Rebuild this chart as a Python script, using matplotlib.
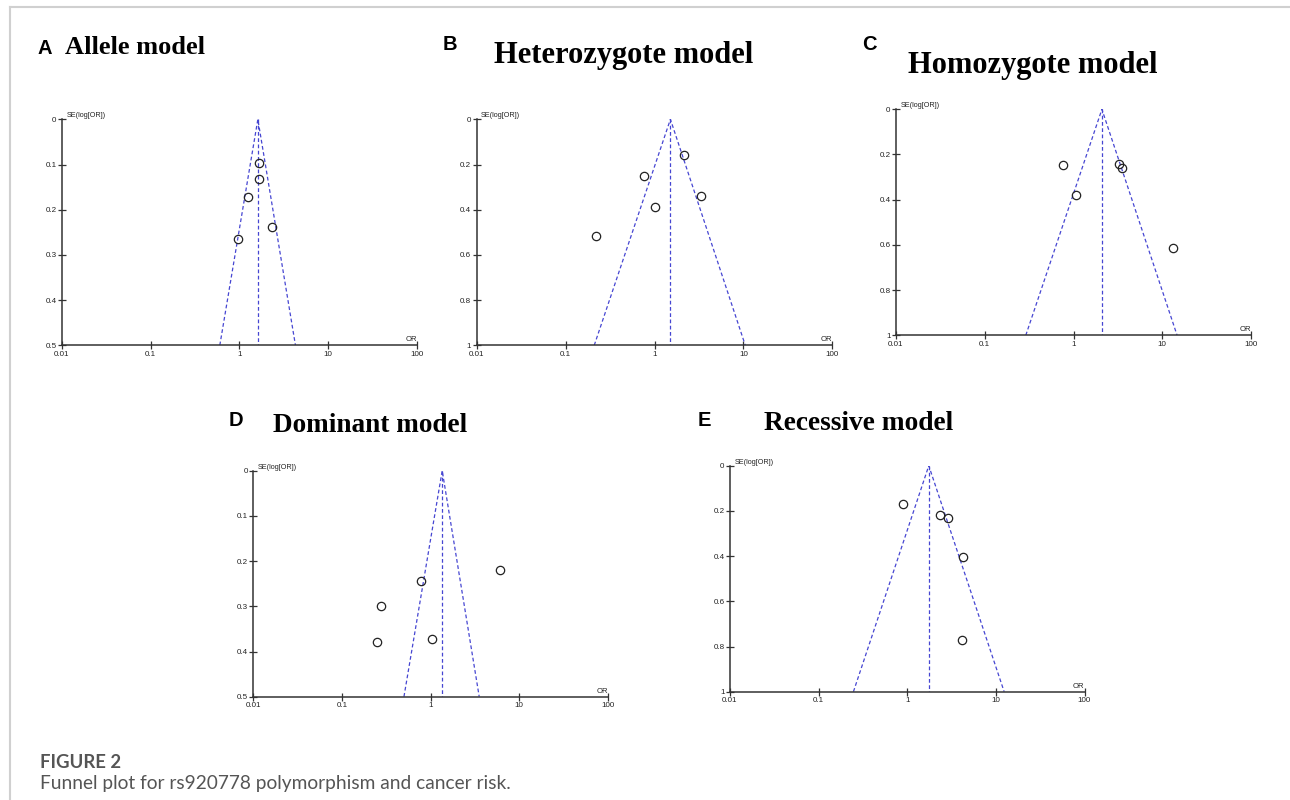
import matplotlib
matplotlib.use("Agg")
from matplotlib import pyplot as plt
from matplotlib.lines import Line2D

W, H = 1290, 800

# panel letters and titles
letters = ["A", "B", "C", "D", "E"]
titles = ["Allele model", "Heterozygote model", "Homozygote model",
          "Dominant model", "Recessive model"]

# pooled OR and funnel limits at the bottom of each plot
pooled = [1.61, 1.51, 2.09, 1.35, 1.75]
funnel_lo = [0.60, 0.21, 0.29, 0.50, 0.247]
funnel_hi = [4.27, 10.5, 14.7, 3.53, 12.4]
se_max = [0.5, 1.0, 1.0, 0.5, 1.0]

# studies (OR, SE(log OR))
or_A = [1.65, 1.68, 1.26, 2.31, 0.97]
se_A = [0.097, 0.131, 0.173, 0.239, 0.265]
or_B = [2.13, 0.76, 3.31, 1.00, 0.22]
se_B = [0.159, 0.252, 0.338, 0.387, 0.518]
or_C = [0.77, 3.27, 3.48, 1.06, 13.2]
se_C = [0.248, 0.241, 0.258, 0.381, 0.615]
or_D = [6.04, 0.77, 0.275, 1.03, 0.25]
se_D = [0.220, 0.245, 0.299, 0.372, 0.378]
or_E = [0.89, 2.33, 2.86, 4.23, 4.15]
se_E = [0.171, 0.219, 0.230, 0.403, 0.773]

x_ticks = [0.01, 0.1, 1, 10, 100]
x_labels = ["0.01", "0.1", "1", "10", "100"]
y_ticks_half = [0, 0.1, 0.2, 0.3, 0.4, 0.5]
y_labels_half = ["0", "0.1", "0.2", "0.3", "0.4", "0.5"]
y_ticks_one = [0, 0.2, 0.4, 0.6, 0.8, 1.0]
y_labels_one = ["0", "0.2", "0.4", "0.6", "0.8", "1"]

all_or = [or_A, or_B, or_C, or_D, or_E]
all_se = [se_A, se_B, se_C, se_D, se_E]

# axes boxes in pixels: left, top, right, bottom
boxes = [(62, 119.3, 417, 345.3),
         (476.7, 119.3, 832.3, 345.3),
         (896, 109.3, 1251, 335.3),
         (253.3, 470.7, 608, 696.7),
         (730, 465.7, 1084.5, 691.7)]

# letter (x, y) and title (x, y) in pixels
letter_pos = [(37, 48), (443, 44), (862, 44), (229, 420), (698, 420)]
title_pos = [(65, 48), (494, 56), (908, 65), (273, 425), (764, 424)]
title_size = [19, 22, 22, 19.6, 19.7]

blue = "#4646d2"
axcol = "#333333"

fig = plt.figure(figsize=(W / 100, H / 100), dpi=100)

# light frame at top and left
fig.add_artist(Line2D([10 / W, 1], [1 - 7 / H, 1 - 7 / H], color="#d0d0d0", lw=1.5))
fig.add_artist(Line2D([10 / W, 10 / W], [1 - 7 / H, 0], color="#d0d0d0", lw=1.5))

for i in range(5):
    l, t, r, b = boxes[i]
    ax = fig.add_axes([l / W, 1 - b / H, (r - l) / W, (b - t) / H])
    ymax = se_max[i]

    # funnel
    ax.plot([funnel_lo[i], pooled[i], funnel_hi[i]], [ymax, 0, ymax],
            color=blue, lw=0.9, ls=(0, (3, 2)))
    ax.plot([pooled[i], pooled[i]], [0, ymax], color=blue, lw=0.9, ls=(0, (3, 2)))

    ax.plot(all_or[i], all_se[i], "o", mfc="none", mec="#222222", ms=6, mew=0.9)

    ax.set_xscale("log")
    ax.set_xlim(0.01, 100)
    ax.set_ylim(ymax, 0)
    ax.set_xticks(x_ticks)
    ax.set_xticklabels(x_labels)
    ax.minorticks_off()
    if ymax == 0.5:
        ax.set_yticks(y_ticks_half)
        ax.set_yticklabels(y_labels_half)
    else:
        ax.set_yticks(y_ticks_one)
        ax.set_yticklabels(y_labels_one)

    for s in ["top", "right"]:
        ax.spines[s].set_visible(False)
    for s in ["left", "bottom"]:
        ax.spines[s].set_color(axcol)
        ax.spines[s].set_linewidth(1.1)
    ax.tick_params(direction="inout", length=6, width=0.9, color=axcol,
                   labelsize=5.8, labelcolor="#222222", pad=1)
    for lab in ax.get_xticklabels() + ax.get_yticklabels():
        lab.set_family("Liberation Sans")
    ax.patch.set_alpha(0)

    ax.text(0.012, 1.0, "SE(log[OR])", transform=ax.transAxes, fontsize=5.2,
            family="Liberation Sans", color="#222222", ha="left", va="bottom")
    ax.text(1.0, 0.008, "OR", transform=ax.transAxes, fontsize=5.5,
            family="Liberation Sans", color="#222222", ha="right", va="bottom")

    lx, ly = letter_pos[i]
    fig.text(lx / W, 1 - ly / H, letters[i], fontsize=14.5, fontweight="bold",
             family="Liberation Sans", ha="left", va="center")
    tx, ty = title_pos[i]
    fig.text(tx / W, 1 - ty / H, titles[i], fontsize=title_size[i], fontweight="bold",
             family="Liberation Serif", ha="left", va="center")

fig.text(40 / W, 1 - 763 / H, "FIGURE 2", fontsize=13.3, fontweight="bold",
         family="Lato", color="#555555", ha="left", va="center")
fig.text(40 / W, 1 - 784 / H, "Funnel plot for rs920778 polymorphism and cancer risk.",
         fontsize=13.8, family="Lato", color="#555555", ha="left", va="center")

fig.savefig("out.png", dpi=100)
